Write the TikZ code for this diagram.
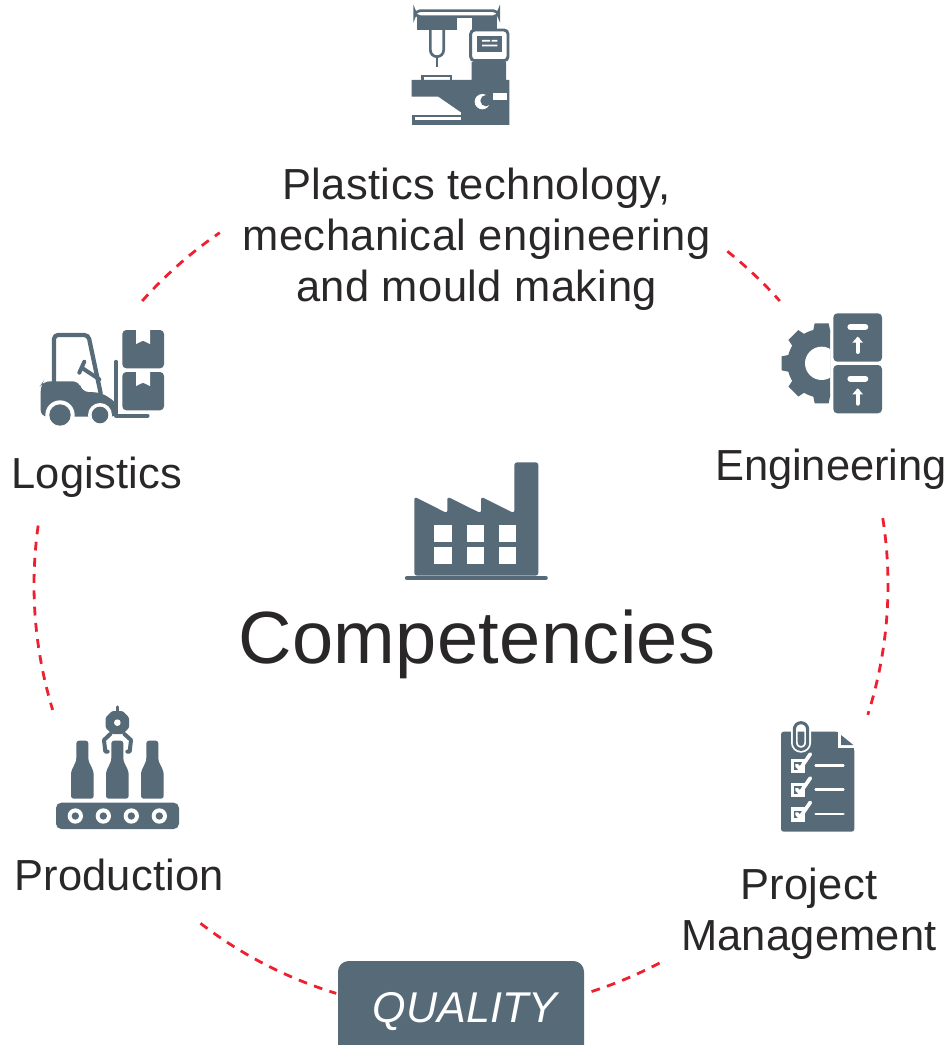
\documentclass[tikz,border=0pt]{standalone}
\usepackage{fontspec}
\setmainfont{Liberation Sans}
\usetikzlibrary{calc}
\definecolor{slate}{HTML}{566A78}
\definecolor{ink}{HTML}{2A2728}
\definecolor{ringred}{HTML}{EE2030}
\tikzset{
  ringarc/.style={draw=ringred,line width=2.1pt,dash pattern=on 6.6pt off 5.6pt},
  lbl/.style={text=ink,font=\fontsize{32.6}{38.3}\selectfont,align=center,inner sep=0pt},
  ic/.style={fill=slate,draw=none},
  wt/.style={fill=white,draw=none},
  wl/.style={draw=white,line cap=round,line join=round},
  dl/.style={draw=slate,line cap=round,line join=round}
}
\begin{document}
\begin{tikzpicture}[x=0.75pt,y=-0.75pt]
\useasboundingbox (0,0) rectangle (951,1045);
\coordinate (ring) at (461,585);
% dashed ring
\foreach \a/\b in {221.7/235.6,-51.4/-41.7,-9/17.7,188/163,127.6/107,72.2/61.8}{
  \draw[ringarc] ($(ring)+(\a:427)$) arc[start angle=\a,end angle=\b,radius=427];
}
% labels
\node[lbl,font=\fontsize{32.6}{38.3}\selectfont\addfontfeature{LetterSpace=1}] (plastics) at (476.5,239) {Plastics technology,\\mechanical engineering\\and mould making};
\node[lbl,anchor=base] (eng) at (831,480) {Engineering};
\node[lbl,anchor=base,font=\fontsize{32.6}{38.3}\selectfont\addfontfeature{LetterSpace=0.5}] (log) at (97,488) {Logistics};
\node[lbl,anchor=base,font=\fontsize{32.6}{38.3}\selectfont\addfontfeature{LetterSpace=0.5}] (prod) at (119,890) {Production};
\node[lbl,font=\fontsize{32.6}{38.3}\selectfont\addfontfeature{LetterSpace=0.5}] (pm) at (809,914) {Project\\Management};
\node[text=ink,font=\fontsize{55.5}{60}\selectfont\addfontfeature{LetterSpace=0.5},inner sep=0pt,anchor=base] (comp) at (477,663) {Competencies};
\path[ic,rounded corners=8pt] (338,961) rectangle (584,1065);
\node[text=white,font=\fontsize{32.3}{38}\selectfont\itshape,inner sep=0pt,anchor=base] (qual) at (465,1022) {QUALITY};
% ---- machine
\begin{scope}[shift={(400,0)},x=0.25pt,y=-0.25pt]
\path[ic] (50,50) rectangle (170,90);
\path[ic] (215,50) rectangle (290,90);
\draw[slate,line width=2pt,fill=white,rounded corners=4pt] (44,32) rectangle (296,50);
\draw[slate,line width=2.2pt,fill=white,rounded corners=3pt] (212,90) rectangle (324,182);
\path[ic] (230,108) rectangle (305,155);
\path[wt] (246,120) rectangle (270,125) (275,120) rectangle (292,125) (246,134) rectangle (292,139);
\draw[slate,line width=2pt] (91,90) -- (91,150) arc[start angle=180,end angle=0,radius=20] -- (131,90);
\draw[slate,line width=2.2pt] (111,170) -- (111,200);
\draw[slate,line width=2pt] (68,240) -- (68,228) -- (153,228) -- (153,240);
\path[ic] (35,240) -- (215,240) -- (215,186) -- (318,186) -- (318,240) -- (328,240) -- (328,375) -- (183,375) -- (183,337) -- (115,290) -- (35,290) -- cycle;
\path[ic] (35,345) rectangle (183,375);
\path[wt] (45,352) rectangle (183,361);
\path[wt] (280,278) rectangle (320,300);
\path[wt] (247,305) circle[radius=23];
\path[ic] (258,302) circle[radius=17];
\end{scope}
% ---- gear and boxes
\begin{scope}[shift={(770,300)},x=0.25pt,y=-0.25pt]
\begin{scope}
\clip (0,40) rectangle (180,340);
\path[ic] (155,190) circle[radius=103];
\foreach \t in {0,45,...,315}{
  \path[ic,rotate around={\t:(155,190)}] (128,100) -- (134,70) -- (176,70) -- (182,100) -- cycle;
}
\path[wt] (155,190) circle[radius=50];
\end{scope}
\foreach \d in {0,155}{
\begin{scope}[yshift=-\d*0.25pt]
\path[ic,rounded corners=3pt] (190,40) rectangle (336,185);
\draw[wl,line width=4.4pt] (241,81) -- (286,81);
\draw[wl,line width=3pt] (263,156) -- (263,118);
\path[wt] (247,128) -- (263,110) -- (279,128) -- cycle;
\end{scope}}
\end{scope}
% ---- forklift
\begin{scope}[shift={(30,320)},x=0.25pt,y=-0.25pt]
\foreach \d in {0,126}{
\begin{scope}[yshift=-\d*0.25pt]
\path[ic,rounded corners=3pt] (277,30) rectangle (402,145);
\path[wt] (318,29) -- (318,72) -- (339,62) -- (360,72) -- (360,29) -- cycle;
\end{scope}}
\draw[dl,line width=2.8pt] (258,125) -- (258,287) -- (353,287);
\draw[dl,line width=3.2pt,rounded corners=3pt] (72,185) -- (72,45) -- (175,45) -- (212,220);
\draw[dl,line width=3pt] (148,158) -- (163,125);
\draw[dl,line width=3pt] (158,145) -- (208,178);
\path[ic,rounded corners=5pt] (32,195) -- (32,290) -- (262,290) -- (262,250) -- (215,218) -- (155,215) -- (148,184) -- (40,184) -- cycle;
\path[wt] (90,285) circle[radius=44];
\path[wt] (210,285) circle[radius=36];
\path[wt] (20,318) rectangle (262,340);
\path[ic] (90,285) circle[radius=32];
\path[ic] (210,285) circle[radius=25];
\end{scope}
% ---- production
\begin{scope}[shift={(45,700)},x=0.25pt,y=-0.25pt]
\path[ic,rounded corners=4pt] (33,308) rectangle (402,387);
\foreach \x in {91,175,259,343}{
  \path[wt] (\x,348) circle[radius=23];
  \path[ic] (\x,348) circle[radius=11];
}
\foreach \x in {112,217,322}{
  \path[ic,rounded corners=2pt] (\x-34,296) -- (\x-34,215) -- (\x-18,182) -- (\x-18,122) -- (\x+18,122) -- (\x+18,182) -- (\x+34,215) -- (\x+34,296) -- cycle;
}
\path[ic,rounded corners=1pt] (201,33) -- (233,33) -- (252,52) -- (252,84) -- (233,102) -- (201,102) -- (182,84) -- (182,52) -- cycle;
\draw[dl,line width=2.6pt] (217,21) -- (217,36);
\path[wt] (217,68) circle[radius=10];
\draw[dl,line width=3pt] (196,102) -- (177,120) -- (181,155) -- (188,155);
\draw[dl,line width=3pt] (238,102) -- (258,120) -- (254,155) -- (247,155);
\end{scope}
% ---- project management
\begin{scope}[shift={(770,720)},x=0.25pt,y=-0.25pt]
\path[ic,rounded corners=2pt] (33,35) -- (205,35) -- (253,85) -- (253,335) -- (33,335) -- cycle;
\path[wt] (203,33) -- (203,85) -- (255,85) -- (255,33) -- cycle;
\path[ic] (213,45) -- (213,75) -- (250,75) -- cycle;
\foreach \c/\w in {white/5pt,slate/2.3pt}{
  \draw[\c,line width=\w,line cap=round] (113,48) -- (113,28) arc[start angle=0,end angle=-180,radius=20] -- (73,68) arc[start angle=180,end angle=0,radius=20] -- (113,48);
}
\draw[slate,line width=1.6pt] (93,36) -- (93,70);
\foreach \d in {0,72,145}{
\begin{scope}[yshift=-\d*0.25pt]
\draw[white,line width=2.4pt] (67,122) rectangle (100,155);
\draw[wl,line width=2.8pt] (80,136) -- (90,147) -- (121,102);
\draw[wl,line width=2pt] (137,137) -- (220,137);
\end{scope}}
\end{scope}
% ---- factory
\begin{scope}[shift={(395,455)},x=0.25pt,y=-0.25pt]
\path[ic,rounded corners=2pt] (58,362) -- (58,125) -- (157,175) -- (157,125) -- (258,175) -- (258,125) -- (358,175) -- (358,22) -- (430,22) -- (430,362) -- cycle;
\draw[dl,line width=3.2pt] (36,369) -- (452,369);
\foreach \x in {118,215,312}{
  \path[wt] (\x,210) rectangle ++(52,52);
  \path[wt] (\x,276) rectangle ++(52,52);
}
\end{scope}
\end{tikzpicture}
\end{document}
